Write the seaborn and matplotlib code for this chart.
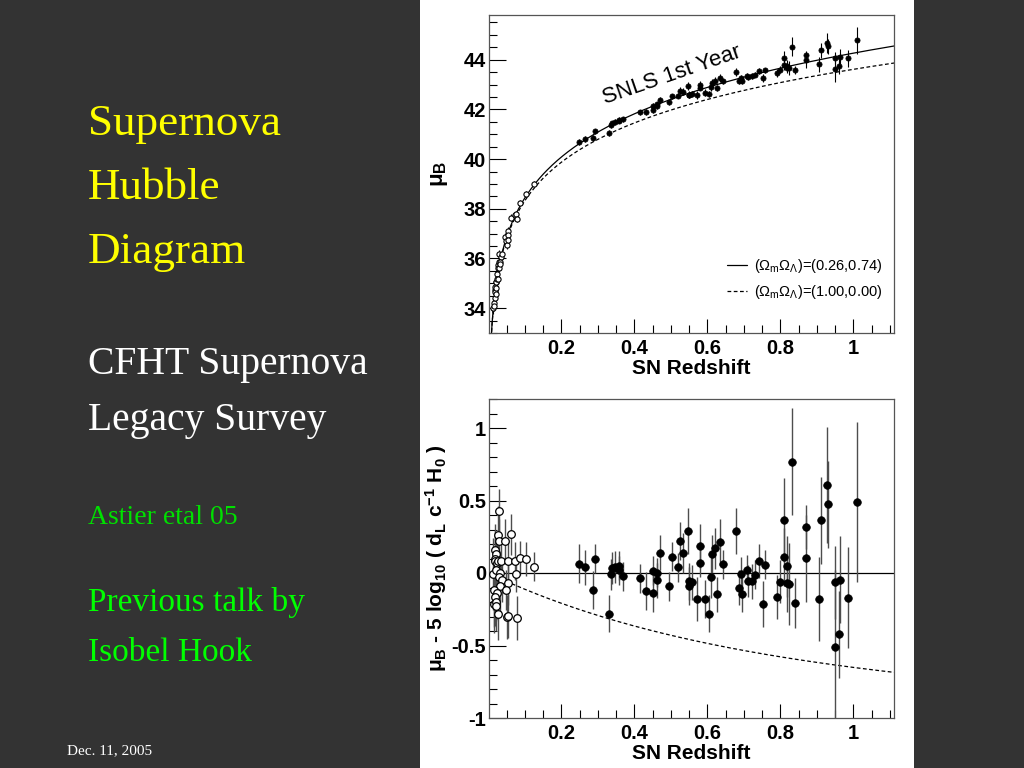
import numpy as np
import matplotlib
matplotlib.use("Agg")
import matplotlib.pyplot as plt
import seaborn as sns
from matplotlib.patches import Rectangle
from matplotlib.ticker import MultipleLocator, FuncFormatter

# nearby (open circles): redshift, Hubble residual, error
z_near = [0.0305, 0.027, 0.029, 0.046, 0.0633, 0.0178, 0.021, 0.0178, 0.0195, 0.025,
          0.028, 0.034, 0.054, 0.072, 0.087, 0.1025, 0.125, 0.014, 0.022, 0.032,
          0.076, 0.029, 0.038, 0.054, 0.032, 0.016, 0.049, 0.025, 0.018, 0.016,
          0.022, 0.027, 0.05, 0.054, 0.08, 0.020]
r_near = [0.43, 0.26, 0.22, 0.22, 0.266, 0.16, 0.13, 0.10, 0.085, 0.07,
          0.08, 0.08, 0.086, 0.081, 0.104, 0.097, 0.044, -0.007, 0.02, 0.0,
          -0.009, -0.03, -0.05, -0.072, -0.09, -0.12, -0.118, -0.14, -0.165, -0.215,
          -0.2, -0.285, -0.303, -0.297, -0.312, -0.23]
e_near = [0.15, 0.2, 0.15, 0.15, 0.14, 0.18, 0.15, 0.2, 0.15, 0.2,
          0.15, 0.12, 0.14, 0.13, 0.12, 0.12, 0.1, 0.25, 0.2, 0.15,
          0.12, 0.15, 0.15, 0.15, 0.2, 0.25, 0.14, 0.18, 0.2, 0.2,
          0.2, 0.18, 0.15, 0.15, 0.15, 0.1]

# SNLS 1st year (filled)
z_snls = [0.249, 0.264, 0.286, 0.292, 0.331, 0.337, 0.340, 0.347, 0.357, 0.359,
          0.370, 0.415, 0.431, 0.451, 0.451, 0.461, 0.463, 0.470, 0.495, 0.504,
          0.520, 0.526, 0.533, 0.548, 0.550, 0.551, 0.558, 0.571, 0.581, 0.581,
          0.593, 0.605, 0.610, 0.614, 0.620, 0.627, 0.634, 0.643, 0.679, 0.687,
          0.692, 0.696, 0.708, 0.711, 0.723, 0.730, 0.742, 0.752, 0.758, 0.791,
          0.800, 0.809, 0.811, 0.818, 0.818, 0.823, 0.831, 0.840, 0.869, 0.871,
          0.905, 0.910, 0.927, 0.930, 0.949, 0.950, 0.960, 0.962, 0.984, 1.010]
r_snls = [0.065, 0.04, -0.118, 0.097, -0.28, -0.01, 0.032, 0.04, 0.02, 0.05,
          -0.023, -0.035, -0.123, -0.14, 0.014, -0.049, 0.002, 0.139, -0.093, 0.113,
          0.04, 0.22, 0.137, 0.29, -0.058, -0.09, -0.065, -0.18, 0.187, 0.07,
          -0.18, -0.28, -0.025, 0.13, 0.171, -0.146, 0.215, 0.06, 0.29, -0.1,
          -0.009, -0.146, 0.023, -0.053, -0.056, -0.012, 0.083, -0.215, 0.058, -0.167,
          -0.06, 0.109, 0.368, 0.046, -0.072, -0.076, 0.768, -0.206, 0.102, 0.317,
          -0.178, 0.363, 0.606, 0.475, -0.509, -0.065, -0.424, -0.046, -0.169, 0.491]
e_snls = [0.135, 0.12, 0.13, 0.1, 0.13, 0.11, 0.11, 0.11, 0.1, 0.1,
          0.1, 0.1, 0.13, 0.13, 0.1, 0.12, 0.1, 0.12, 0.1, 0.1,
          0.1, 0.13, 0.14, 0.16, 0.13, 0.13, 0.12, 0.15, 0.15, 0.1,
          0.13, 0.13, 0.15, 0.13, 0.14, 0.12, 0.16, 0.1, 0.16, 0.12,
          0.12, 0.12, 0.1, 0.11, 0.12, 0.1, 0.12, 0.16, 0.1, 0.15,
          0.15, 0.2, 0.29, 0.21, 0.2, 0.28, 0.37, 0.17, 0.3, 0.15,
          0.29, 0.3, 0.4, 0.3, 0.53, 0.25, 0.3, 0.3, 0.35, 0.55]

# cosmologies (Omega_m, Omega_Lambda) and magnitude offset
cosmo_fit = (0.26, 0.74)
cosmo_eds = (1.00, 0.00)
MU_OFFSET = 43.27

BG = "#333333"


def log_dl(z, om, ol):
    # 5 log10(d_L c^-1 H0)
    ok = 1.0 - om - ol
    out = []
    for zz in z:
        zg = np.linspace(0, zz, 300)
        e = np.sqrt(om * (1 + zg) ** 3 + ok * (1 + zg) ** 2 + ol)
        out.append(5 * np.log10((1 + zz) * np.trapezoid(1 / e, zg)))
    return np.array(out)


def style_axis(ax, ymaj, ymin):
    ax.xaxis.set_major_locator(MultipleLocator(0.2))
    ax.xaxis.set_minor_locator(MultipleLocator(0.05))
    ax.yaxis.set_major_locator(MultipleLocator(ymaj))
    ax.yaxis.set_minor_locator(MultipleLocator(ymin))
    fmt = FuncFormatter(lambda v, p: "%g" % round(v, 3))
    ax.xaxis.set_major_formatter(fmt)
    ax.yaxis.set_major_formatter(fmt)
    ax.tick_params(which="both", direction="in", top=False, right=False,
                   colors="black", width=0.8)
    ax.tick_params(axis="x", which="major", length=10, labelsize=14.5, pad=4)
    ax.tick_params(axis="y", which="major", length=12, labelsize=14.5, pad=2)
    ax.tick_params(which="minor", length=6)
    for lab in ax.get_xticklabels() + ax.get_yticklabels():
        lab.set_fontweight("bold")
    for sp in ax.spines.values():
        sp.set_visible(True)
        sp.set_color("#555555")
        sp.set_linewidth(0.9)
    ax.set_xlabel("SN Redshift", fontsize=15, fontweight="bold", labelpad=1,
                  color="black")
    ax.set_xlim(0.002, 1.111)


sns.set_style("ticks")
plt.rcParams["font.family"] = ["Liberation Sans", "DejaVu Sans"]
plt.rcParams["mathtext.fontset"] = "custom"
plt.rcParams["mathtext.rm"] = "Liberation Sans"
plt.rcParams["mathtext.bf"] = "Liberation Sans:bold"
plt.rcParams["mathtext.it"] = "Liberation Sans:italic"
plt.rcParams["text.color"] = "black"
plt.rcParams["axes.labelcolor"] = "black"

fig = plt.figure(figsize=(10.24, 7.68), dpi=100, facecolor=BG)
fig.add_artist(Rectangle((420 / 1024, 0), 494 / 1024, 1, transform=fig.transFigure,
                         facecolor="white", edgecolor="none", zorder=0))

zn, rn, en = np.array(z_near), np.array(r_near), np.array(e_near)
zs, rs, es = np.array(z_snls), np.array(r_snls), np.array(e_snls)
zgrid = np.linspace(0.002, 1.12, 400)
mu_fit = MU_OFFSET + log_dl(zgrid, *cosmo_fit)
mu_eds = MU_OFFSET + log_dl(zgrid, *cosmo_eds)

# top: Hubble diagram
ax1 = fig.add_axes([489 / 1024, 1 - 333 / 768, 405 / 1024, 318 / 768])
ax1.set_facecolor("white")
mu_n = rn + MU_OFFSET + log_dl(zn, *cosmo_fit)
mu_s = rs + MU_OFFSET + log_dl(zs, *cosmo_fit)
sns.lineplot(x=zgrid, y=mu_fit, ax=ax1, color="black", lw=0.9,
             label=r"($\mathrm{Ω_{m}Ω_{Λ}}$)=(0.26,0.74)")
sns.lineplot(x=zgrid, y=mu_eds, ax=ax1, color="black", lw=0.9,
             label=r"($\mathrm{Ω_{m}Ω_{Λ}}$)=(1.00,0.00)")
ax1.lines[1].set_linestyle((0, (3, 2)))
ax1.errorbar(zn, mu_n, yerr=en, fmt="none", ecolor="black", elinewidth=0.8, zorder=3)
ax1.errorbar(zs, mu_s, yerr=es, fmt="none", ecolor="black", elinewidth=0.8, zorder=3)
sns.scatterplot(x=zn, y=mu_n, ax=ax1, color="white", edgecolor="black",
                s=14, linewidth=0.8, zorder=4)
sns.scatterplot(x=zs, y=mu_s, ax=ax1, color="black", edgecolor="black",
                s=14, linewidth=0.5, zorder=4)
ax1.set_ylim(33.0, 45.8)
style_axis(ax1, 2, 0.5)
ax1.set_ylabel(r"$\mathbf{μ_B}$", fontsize=16, labelpad=10)
ax1.text(0.502, 43.36, "SNLS 1st Year", rotation=19, fontsize=16,
         ha="center", va="center", color="black")
leg = ax1.legend(loc="lower right", bbox_to_anchor=(1.005, 0.06), frameon=False,
                 fontsize=10.5, handlelength=1.4, labelspacing=0.55,
                 handletextpad=0.5)
for t in leg.get_texts():
    t.set_color("black")

# bottom: residuals
ax2 = fig.add_axes([489 / 1024, 1 - 718 / 768, 405 / 1024, 319 / 768])
ax2.set_facecolor("white")
ax2.axhline(0, color="black", lw=0.9, zorder=1)
sns.lineplot(x=zgrid, y=mu_eds - mu_fit, ax=ax2, color="black", lw=0.9)
ax2.lines[-1].set_linestyle((0, (3, 2)))
ax2.errorbar(zn, rn, yerr=en, fmt="none", ecolor="0.3", elinewidth=1, zorder=3)
ax2.errorbar(zs, rs, yerr=es, fmt="none", ecolor="0.3", elinewidth=1, zorder=3)
sns.scatterplot(x=zn, y=rn, ax=ax2, color="white", edgecolor="black",
                s=30, linewidth=0.9, zorder=4)
sns.scatterplot(x=zs, y=rs, ax=ax2, color="black", edgecolor="black",
                s=30, linewidth=0.5, zorder=4)
ax2.set_ylim(-1.0, 1.2)
style_axis(ax2, 0.5, 0.1)
ax2.set_ylabel(r"$\mathbf{μ_B}$ - 5 log$\mathbf{_{10}}$ ( d$\mathbf{_L}$ c$\mathbf{^{-1}}$ H$\mathbf{_0}$ )",
               fontsize=15, fontweight="bold", labelpad=2)

# slide text
serif = ["Liberation Serif", "DejaVu Serif"]
left = 88 / 1024
for txt, yb, size, col in [("Supernova", 135, 32.5, "#ffff00"),
                           ("Hubble", 199, 32.5, "#ffff00"),
                           ("Diagram", 263, 32.5, "#ffff00"),
                           ("CFHT Supernova", 374, 28.5, "white"),
                           ("Legacy Survey", 430, 28.5, "white"),
                           ("Astier etal 05", 524, 20, "#00e000"),
                           ("Previous talk by", 611, 24, "#00ff00"),
                           ("Isobel Hook", 661, 24, "#00ff00")]:
    fig.text(left, 1 - yb / 768, txt, family=serif, fontsize=size, color=col,
             va="baseline", ha="left")
fig.text(67 / 1024, 1 - 754 / 768, "Dec. 11, 2005", family=serif, fontsize=11,
         color="white", va="baseline", ha="left")

fig.savefig("out.png", dpi=100, facecolor=BG)
plt.close(fig)
